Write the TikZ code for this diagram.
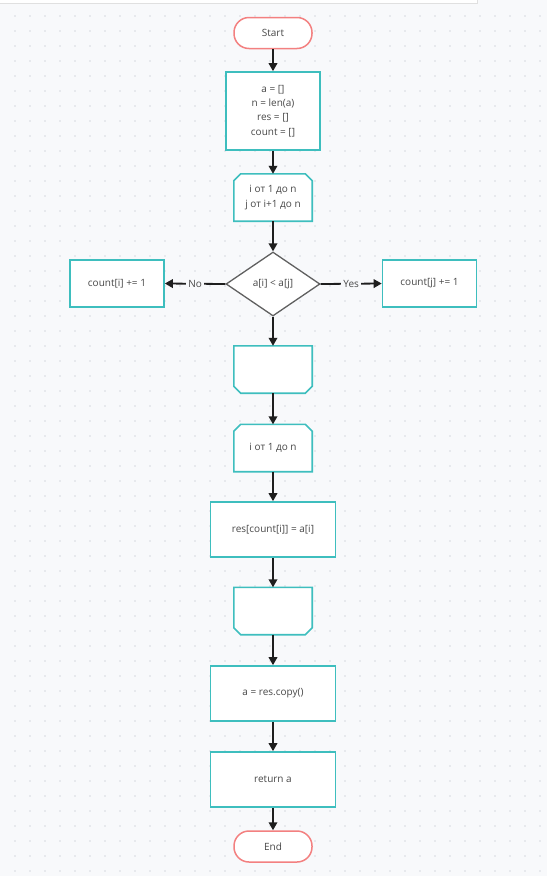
\documentclass[tikz,border=0pt]{standalone}
\usepackage{fontspec}
\setmainfont{Open Sans}
\usetikzlibrary{shapes.geometric,arrows.meta}
\definecolor{canvas}{RGB}{248,249,251}
\definecolor{griddot}{RGB}{214,217,223}
\definecolor{teal}{RGB}{62,190,190}
\definecolor{salmon}{RGB}{243,128,128}
\definecolor{decgray}{RGB}{96,96,96}
\definecolor{txt}{RGB}{72,72,72}
\definecolor{ink}{RGB}{30,30,30}
\pgfdeclarelayer{paper}
\pgfdeclarelayer{outline}
\pgfsetlayers{paper,outline,main}
\begin{document}
\begin{tikzpicture}[x=1pt,y=-1pt,
  font=\fontsize{10}{14.4}\selectfont, text=txt,
  terminal/.style={draw=salmon, line width=1.5pt, fill=white, rounded corners=15pt,
    minimum width=78pt, minimum height=31pt, inner sep=0pt},
  process/.style={draw=teal, line width=1.6pt, fill=white, align=center,
    inner sep=0pt},
  loopnode/.style={align=center, minimum width=78pt, minimum height=47pt, inner sep=0pt},
  loopline/.style={draw=teal, line width=1.6pt, fill=white, line join=miter},
  decision/.style={diamond, draw=decgray, line width=1.3pt, fill=white, aspect=1.47,
    minimum width=94pt, minimum height=64pt, inner sep=0pt},
  flow/.style={line width=1.8pt, draw=ink, -{Triangle[width=8.5pt,length=8pt]}},
  branchlbl/.style={fill=canvas, inner sep=2pt, text=txt}
]
\useasboundingbox (0,0) rectangle (547,876);
\begin{pgfonlayer}{paper}
\fill[canvas] (0,0) rectangle (547,876);
% dotted grid of the canvas
\foreach \gx in {15,30,...,540}
  \foreach \gy in {16,31,...,876}
    \fill[griddot] (\gx,\gy) circle (0.8);
% toolbar edge along the top
\fill[black!12] (0,0) rectangle (478,4);
\fill[white] (0,0) rectangle (477,3);
\end{pgfonlayer}

% main column
\node[terminal] (start) at (273,33) {Start};
\node[process, minimum width=94pt, minimum height=78pt] (init) at (273,111)
  {a = []\\n = len(a)\\res = []\\count = []};
\node[loopnode] (loopA) at (273,197.5) {i от 1 до n\\j от i+1 до n};
\node[decision] (cmp) at (273,284) {a[i] < a[j]};
\node[process, minimum width=94pt, minimum height=47pt] (incI) at (117,283.5) {count[i] += 1};
\node[process, minimum width=94pt, minimum height=47pt] (incJ) at (429.5,283.5) {count[j] += 1};
\node[loopnode] (endA) at (273,369.5) {};
\node[loopnode] (loopB) at (273,448) {i от 1 до n};
\node[process, minimum width=125pt, minimum height=55pt] (place) at (273,529.5) {res[count[i]] = a[i]};
\node[loopnode] (endB) at (273,611) {};
\node[process, minimum width=125pt, minimum height=55pt] (copy) at (273,693.5) {a = res.copy()};
\node[process, minimum width=125pt, minimum height=55pt] (ret) at (273,779.5) {return a};
\node[terminal] (stop) at (273,846.5) {End};

% loop limit outlines: top corners cut for an opening limit, bottom corners for a closing one
\begin{pgfonlayer}{outline}
\foreach \lp in {loopA,loopB}
  \draw[loopline] ([xshift=7pt]\lp.north west) -- ([xshift=-7pt]\lp.north east)
    -- ([yshift=-7pt]\lp.north east) -- (\lp.south east) -- (\lp.south west)
    -- ([yshift=-7pt]\lp.north west) -- cycle;
\foreach \lp in {endA,endB}
  \draw[loopline] (\lp.north west) -- (\lp.north east)
    -- ([yshift=7pt]\lp.south east) -- ([xshift=-7pt]\lp.south east)
    -- ([xshift=7pt]\lp.south west) -- ([yshift=7pt]\lp.south west) -- cycle;
\end{pgfonlayer}

% connectors
\draw[flow] (start) -- (init);
\draw[flow] (init) -- (loopA);
\draw[flow] (loopA) -- (cmp);
\draw[flow] (cmp.west) -- node[branchlbl] {No} (incI.east);
\draw[flow] (cmp.east) -- node[branchlbl] {Yes} (incJ.west);
\draw[flow] (cmp) -- (endA);
\draw[flow] (endA) -- (loopB);
\draw[flow] (loopB) -- (place);
\draw[flow] (place) -- (endB);
\draw[flow] (endB) -- (copy);
\draw[flow] (copy) -- (ret);
\draw[flow] (ret) -- (stop);
\end{tikzpicture}
\end{document}
